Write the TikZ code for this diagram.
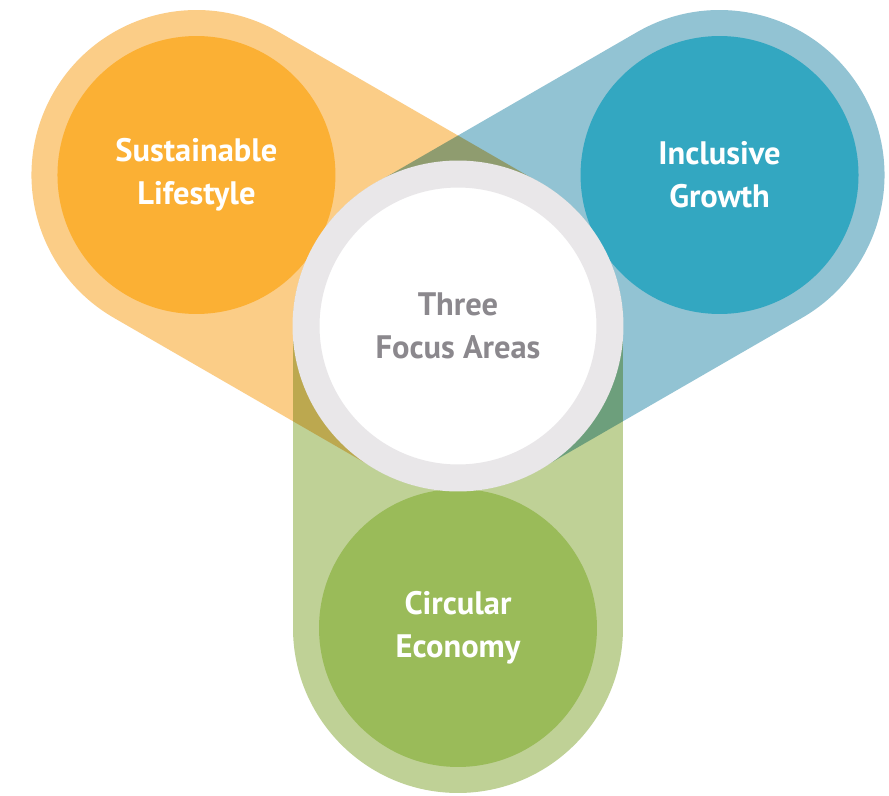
\documentclass[tikz,border=0pt]{standalone}
\usepackage{fontspec}
\setmainfont{PT Sans}
\definecolor{lifeLight}{HTML}{FBCD87}
\definecolor{lifeDark}{HTML}{FBB034}
\definecolor{growLight}{HTML}{92C3D3}
\definecolor{growDark}{HTML}{33A7C1}
\definecolor{ecoLight}{HTML}{BFD196}
\definecolor{ecoDark}{HTML}{9ABB59}
\definecolor{ringGray}{HTML}{E9E7E9}
\definecolor{hubText}{HTML}{8B888D}
\begin{document}
\begin{tikzpicture}[x=0.02cm,y=0.02cm,
    band/.style={line width=6.6cm,line cap=round,blend mode=multiply},
    lobe/.style={circle,minimum size=5.56cm,inner sep=0pt,text=white,
      font=\bfseries\fontsize{18.5}{24.4}\selectfont,align=center}]
  % page
  \fill[white] (-458,-469) rectangle (431,326);
  \useasboundingbox (-458,-469) rectangle (431,326);
  % centres of the three areas
  \coordinate (mid) at (0,0);
  \coordinate (lifeC) at (150:302);
  \coordinate (growC) at (30:302);
  \coordinate (ecoC) at (270:302);
  % bands
  \draw[band,draw=lifeLight] (mid) -- (lifeC);
  \draw[band,draw=growLight] (mid) -- (growC);
  \draw[band,draw=ecoLight] (mid) -- (ecoC);
  % areas
  \node[lobe,fill=lifeDark] (life) at (lifeC) {Sustainable\\Lifestyle};
  \node[lobe,fill=growDark] (grow) at (growC) {Inclusive\\Growth};
  \node[lobe,fill=ecoDark] (eco) at (ecoC) {Circular\\Economy};
  % hub
  \node[circle,minimum size=6.08cm,inner sep=0pt,fill=white,draw=ringGray,
    line width=0.54cm,text=hubText,align=center,
    font=\bfseries\fontsize{18.5}{24.4}\selectfont] (hub) at (mid) {Three\\Focus Areas};
\end{tikzpicture}
\end{document}
